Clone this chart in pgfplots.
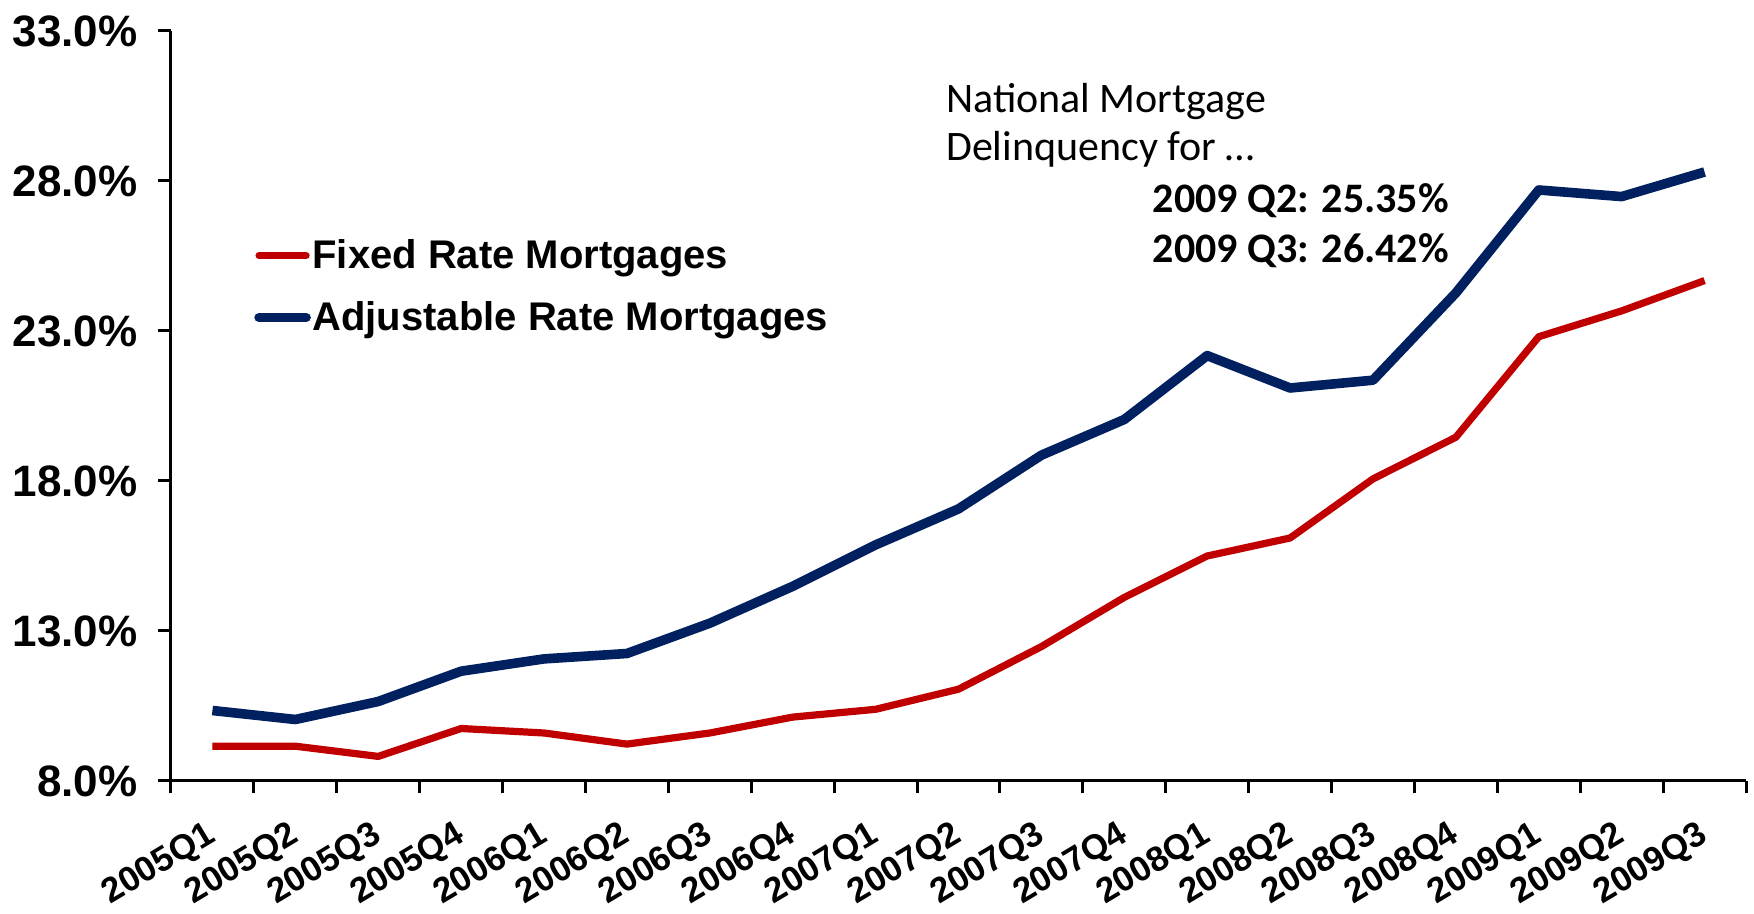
\documentclass[border=0pt]{standalone}
\usepackage{fontspec}
\setmainfont{Liberation Sans}
\newfontfamily\calibri{Carlito}
\usepackage{pgfplots}
\pgfplotsset{compat=1.18}
\definecolor{frmred}{RGB}{192,0,0}
\definecolor{armblue}{RGB}{0,32,96}
\begin{document}
\begin{tikzpicture}
\useasboundingbox (-85.5pt,-66.5pt) rectangle (791.5pt,390.5pt);
\begin{axis}[
  scale only axis,
  width=787.5pt, height=375pt,
  at={(0pt,0pt)}, anchor=south west,
  xmin=-0.5, xmax=18.5,
  ymin=8, ymax=33,
  clip=false,
  axis x line*=bottom, axis y line*=left,
  axis line style={line width=1.5pt},
  tick align=outside,
  major tick length=6.5pt,
  minor tick length=6pt,
  tick style={line width=1.5pt, black},
  ytick={8,13,18,23,28,33},
  yticklabel={\pgfmathprintnumber[fixed,fixed zerofill,precision=1]{\tick}\%},
  yticklabel style={font=\bfseries\fontsize{22}{26}\selectfont, xshift=-6.8pt},
  /pgf/number format/assume math mode=true,
  xtick={0,...,18},
  xticklabels={2005Q1,2005Q2,2005Q3,2005Q4,2006Q1,2006Q2,2006Q3,2006Q4,2007Q1,2007Q2,2007Q3,2007Q4,2008Q1,2008Q2,2008Q3,2008Q4,2009Q1,2009Q2,2009Q3},
  major x tick style={draw=none},
  minor xtick={-0.5,0.5,...,18.5},
  xticklabel style={xshift=-2.7pt, yshift=-7.9pt, rotate=31, anchor=north east, font=\bfseries\fontsize{17.5}{20}\selectfont},
  legend style={at={(axis cs:0.50,24.48)}, anchor=west, draw=none, fill=none,
    font=\bfseries\fontsize{20}{24}\selectfont, row sep=11pt, inner xsep=0pt, inner ysep=0pt,
    nodes={inner xsep=0.8pt}},
  legend cell align=left,
  legend image code/.code={\draw[#1, line cap=round] (0pt,0pt) -- (23.5pt,0pt);},
]
\addplot[color=frmred, line width=3.6pt, line join=round] coordinates {
(0,9.16) (1,9.16) (2,8.82) (3,9.75) (4,9.60) (5,9.23) (6,9.60) (7,10.13) (8,10.39) (9,11.06)
(10,12.48) (11,14.12) (12,15.50) (13,16.10) (14,18.07) (15,19.46) (16,22.81) (17,23.67) (18,24.68)};
\addplot[color=armblue, line width=4.8pt, line join=round] coordinates {
(0,10.35) (1,10.05) (2,10.65) (3,11.66) (4,12.07) (5,12.25) (6,13.26) (7,14.49) (8,15.87) (9,17.07)
(10,18.86) (11,20.05) (12,22.18) (13,21.10) (14,21.36) (15,24.27) (16,27.70) (17,27.48) (18,28.30)};
\legend{Fixed Rate Mortgages, Adjustable Rate Mortgages}
\node[anchor=base west, inner sep=0pt, font=\calibri\fontsize{21}{25}\selectfont] at (axis cs:8.847,30.28) {National Mortgage};
\node[anchor=base west, inner sep=0pt, font=\calibri\fontsize{21}{25}\selectfont] at (axis cs:8.847,28.67) {Delinquency for …};
\node[anchor=base west, inner sep=0pt, font=\calibri\bfseries\fontsize{21}{25}\selectfont] at (axis cs:11.34,26.95) {2009 Q2: 25.35\%};
\node[anchor=base west, inner sep=0pt, font=\calibri\bfseries\fontsize{21}{25}\selectfont] at (axis cs:11.34,25.29) {2009 Q3: 26.42\%};
\end{axis}
\end{tikzpicture}
\end{document}
